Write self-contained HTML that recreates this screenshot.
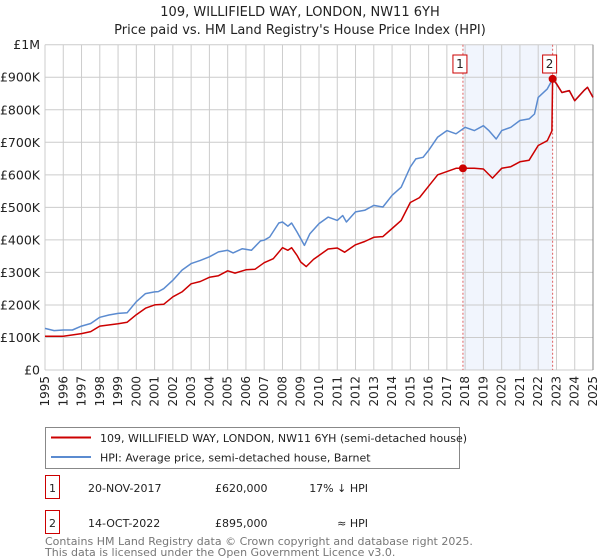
<!DOCTYPE html>
<html><head><meta charset="utf-8"><style>
body{margin:0;background:#fff;font-family:"Liberation Sans","DejaVu Sans",sans-serif;}
#wrap{position:relative;width:600px;height:560px;overflow:hidden}
svg text{font-family:"DejaVu Sans","Liberation Sans",sans-serif}
</style></head><body>
<div id="wrap">
<svg id="chart" width="600" height="560"></svg>
</div>
<script>
const yearTicks=[1995,1996,1997,1998,1999,2000,2001,2002,2003,2004,2005,2006,2007,2008,2009,2010,2011,2012,2013,2014,2015,2016,2017,2018,2019,2020,2021,2022,2023,2024,2025];
const valueTicks=[0,100,200,300,400,500,600,700,800,900,1000];
const valueTickLabels=["£0","£100K","£200K","£300K","£400K","£500K","£600K","£700K","£800K","£900K","£1M"];
const hpiYears=[1995,1995.5,1996,1996.5,1997,1997.5,1998,1998.5,1999,1999.5,2000,2000.5,2001,2001.2,2001.5,2002,2002.5,2003,2003.5,2004,2004.5,2005,2005.3,2005.8,2006.3,2006.8,2007,2007.3,2007.8,2008,2008.3,2008.5,2008.8,2009,2009.2,2009.5,2010,2010.5,2011,2011.3,2011.5,2012,2012.5,2013,2013.5,2014,2014.5,2015,2015.3,2015.7,2016,2016.5,2017,2017.5,2018,2018.5,2019,2019.3,2019.7,2020,2020.5,2021,2021.5,2021.8,2022,2022.5,2022.8,2023,2023.3,2023.7,2024,2024.5,2024.7,2025];
const hpiValues=[128,121,123,123,135,143,162,169,174,176,210,235,240,241,250,276,307,327,337,348,363,368,360,373,368,397,399,409,452,455,442,452,424,404,383,419,450,470,460,475,455,486,491,506,501,537,562,624,649,654,675,716,736,726,746,736,751,736,710,736,746,767,772,787,838,864,895,879,853,859,828,859,869,838];
const paidYears=[1995,1996,1997,1997.5,1998,1999,1999.5,2000,2000.5,2001,2001.5,2002,2002.5,2003,2003.5,2004,2004.5,2005,2005.4,2006,2006.5,2007,2007.5,2008,2008.3,2008.5,2008.8,2009,2009.3,2009.7,2010,2010.5,2011,2011.4,2012,2012.5,2013,2013.5,2014,2014.5,2015,2015.5,2016,2016.5,2017,2017.5,2017.88,2018.5,2019,2019.5,2020,2020.5,2021,2021.5,2022,2022.5,2022.75,2022.79,2023,2023.3,2023.7,2024,2024.5,2024.7,2025];
const paidValues=[104,104,112,118,135,142,147,170,190,200,202,225,240,265,272,285,290,305,298,308,310,330,342,376,368,376,352,332,318,340,352,372,375,362,385,395,408,410,435,460,515,530,565,600,610,620,620,620,618,590,620,625,640,645,690,705,735,895,880,853,859,828,859,869,838];
const saleYears=[2017.88,2022.79];
const saleValues=[620,895];
const saleLabels=["1","2"];

const NS="http://www.w3.org/2000/svg";
const svg=document.getElementById('chart');
const L=45,R=593,T=44.7,B=370;
const x=y=>L+(y-1995)*(R-L)/30;
const yv=v=>B-v*(B-T)/1000;
function mk(tag,attrs,parent){const e=document.createElementNS(NS,tag);for(const k in attrs)e.setAttribute(k,attrs[k]);(parent||svg).appendChild(e);return e;}

let t=mk('text',{x:300,y:16,'text-anchor':'middle','font-size':13,fill:'#222'});t.textContent="109, WILLIFIELD WAY, LONDON, NW11 6YH";


t=mk('text',{x:300,y:34,'text-anchor':'middle','font-size':13,fill:'#222'});t.textContent="Price paid vs. HM Land Registry's House Price Index (HPI)";



let sh=mk('rect',{x:x(saleYears[0]),y:T,width:x(saleYears[1])-x(saleYears[0]),height:B-T,fill:'#eef3fc',opacity:0.8});



yearTicks.forEach(yr=>{
  const g=mk('line',{x1:x(yr),x2:x(yr),y1:T,y2:B,stroke:'#cccccc','stroke-width':1});
  
  
  const tx=mk('text',{x:0,y:0,'font-size':12,fill:'#222','text-anchor':'end',transform:`translate(${x(yr)+4},376) rotate(-90)`});
  tx.textContent=yr;
  
  
});
valueTicks.forEach((v,i)=>{
  const g=mk('line',{x1:L,x2:R,y1:yv(v),y2:yv(v),stroke:'#cccccc','stroke-width':1});
  
  
  const tx=mk('text',{x:L-5,y:yv(v)+4.5,'font-size':12.5,fill:'#222','text-anchor':'end'});
  tx.textContent=valueTickLabels[i];
  
  
});
let ax=mk('line',{x1:R,x2:R,y1:T,y2:B,stroke:'#888','stroke-width':1});



saleYears.forEach((sy,i)=>{
  const d=mk('line',{x1:x(sy),x2:x(sy),y1:T,y2:B,stroke:'#e06060','stroke-width':1,'stroke-dasharray':'2,2'});
  
  
});

function path(xs,vs,color,name){
  const p=mk('path',{d:xs.map((a,i)=>(i?'L':'M')+x(a).toFixed(1)+','+yv(vs[i]).toFixed(1)).join(''),fill:'none',stroke:color,'stroke-width':1.5,'stroke-linejoin':'round'});
  
  
}
path(hpiYears,hpiValues,'#5b8bd0','hpi-line');
path(paidYears,paidValues,'#cc0000','price-paid-line');

saleYears.forEach((sy,i)=>{
  const c=mk('circle',{cx:x(sy),cy:yv(saleValues[i]),r:4,fill:'#cc0000'});
  
  
  const bx=x(sy)-3-7;
  const r=mk('rect',{x:bx,y:55,width:14,height:18,fill:'#fff',stroke:'#cc0000','stroke-width':1});
  
  
  const tx=mk('text',{x:bx+7,y:68,'font-size':12,fill:'#222','text-anchor':'middle'});
  tx.textContent=saleLabels[i];
  
  
});

const lg=mk('g',{});


mk('rect',{x:45.5,y:427.5,width:414,height:41,fill:'#fff',stroke:'#888'},lg);
mk('line',{x1:51,x2:91,y1:437.5,y2:437.5,stroke:'#cc0000','stroke-width':2},lg);
mk('line',{x1:51,x2:91,y1:457,y2:457,stroke:'#5b8bd0','stroke-width':2},lg);
t=mk('text',{x:100,y:442,'font-size':11,fill:'#222'},lg);t.textContent="109, WILLIFIELD WAY, LONDON, NW11 6YH (semi-detached house)";


t=mk('text',{x:100,y:461.5,'font-size':11,fill:'#222'},lg);t.textContent="HPI: Average price, semi-detached house, Barnet";



const rows=[["1","20-NOV-2017","£620,000","17% ↓ HPI",494],["2","14-OCT-2022","£895,000","≈ HPI",529]];
rows.forEach(rw=>{
  const g=mk('g',{});
  
  
  mk('rect',{x:45.5,y:rw[4]-18.5,width:14,height:23,fill:'#fff',stroke:'#cc0000'},g);
  let a=mk('text',{x:52.5,y:rw[4]-2,'font-size':11,fill:'#222','text-anchor':'middle'},g);a.textContent=rw[0];
  a=mk('text',{x:88,y:rw[4]-2,'font-size':11,fill:'#222'},g);a.textContent=rw[1];
  a=mk('text',{x:215,y:rw[4]-2,'font-size':11,fill:'#222'},g);a.textContent=rw[2];
  a=mk('text',{x:368,y:rw[4]-2,'font-size':11,fill:'#222','text-anchor':'end'},g);a.textContent=rw[3];
});
t=mk('text',{x:45,y:545,'font-size':11,fill:'#777'});t.textContent="Contains HM Land Registry data © Crown copyright and database right 2025.";


t=mk('text',{x:45,y:556,'font-size':11,fill:'#777'});t.textContent="This data is licensed under the Open Government Licence v3.0.";


</script>
</body></html>
